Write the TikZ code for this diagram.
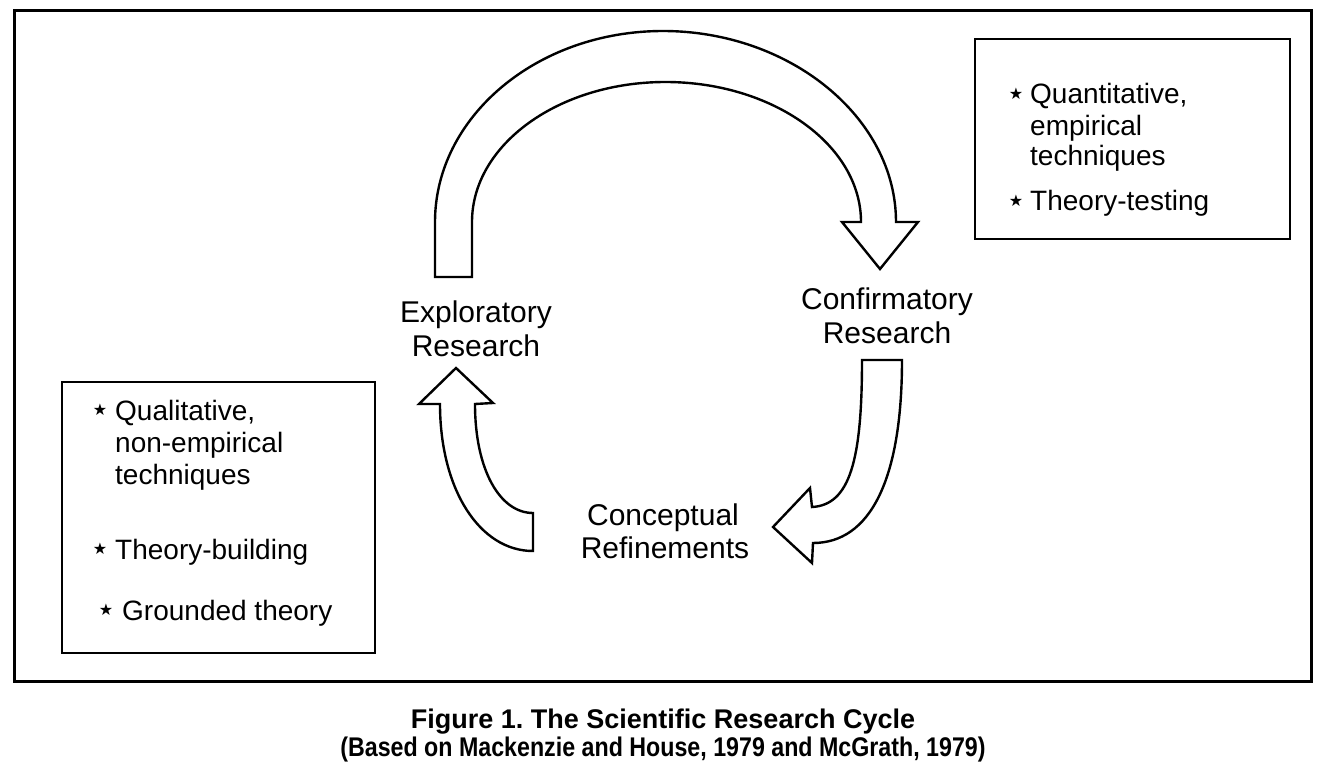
\documentclass[tikz,border=0pt]{standalone}
\usepackage{fontspec}
\setmainfont{Liberation Sans}
\newfontfamily\symfont{DejaVu Sans}
\begin{document}
\begin{tikzpicture}[x=1pt,y=-1pt,
  lbl/.style={font=\fontsize{30}{34}\selectfont, anchor=base, inner sep=0},
  bul/.style={font=\fontsize{28}{30}\selectfont, anchor=base west, inner sep=0},
  starmark/.style={font=\symfont\fontsize{16}{16}\selectfont, anchor=center, inner sep=0},
  captext/.style={font=\bfseries\fontsize{27}{29}\selectfont, anchor=base, inner sep=0},
  box/.style={draw, line width=2.2pt},
  blk/.style={draw, line width=2.4pt, line join=miter, fill=white}]
\useasboundingbox (0,0) rectangle (1326,778);
% frame
\draw[line width=3pt] (14,11) rectangle (1311,681);
% boxes
\draw[box] (975,39) rectangle (1290,239);
\draw[box] (62,382) rectangle (375,653);
% top right bullets
\node[starmark] (s1) at (1016,94) {★};
\node[bul] (q1) at (1030,104) {Quantitative,};
\node[bul] (q2) at (1030,136) {empirical};
\node[bul] (q3) at (1030,166) {techniques};
\node[starmark] (s2) at (1016,201) {★};
\node[bul] (q4) at (1030,211) {Theory-testing};
% bottom left bullets
\node[starmark] (s3) at (100,410) {★};
\node[bul] (l1) at (115,420) {Qualitative,};
\node[bul] (l2) at (115,452) {non-empirical};
\node[bul] (l3) at (115,484) {techniques};
\node[starmark] (s4) at (100,549) {★};
\node[bul] (l4) at (115,559) {Theory-building};
\node[starmark] (s5) at (106,610) {★};
\node[bul] (l5) at (122,620) {Grounded theory};
% labels
\node[lbl] (ex1) at (476,323) {Exploratory};
\node[lbl] (ex2) at (476,356) {Research};
\node[lbl] (cf1) at (887,309) {Confirmatory};
\node[lbl] (cf2) at (887,343) {Research};
\node[lbl] (cr1) at (663,525) {Conceptual};
\node[lbl] (cr2) at (665,558) {Refinements};
% top block arrow
\draw[blk] (435,277) -- (435,222)
  .. controls (435,117.6) and (536,31) .. (663,31)
  .. controls (790,31) and (896,117.6) .. (896,222)
  -- (918,222) -- (880,269) -- (842,222) -- (861,222)
  .. controls (861,144.7) and (772.4,82) .. (665.5,82)
  .. controls (558.6,82) and (472,144.7) .. (472,222)
  -- (472,277) -- cycle;
% right block arrow
\draw[blk] (862,360) -- (902,360)
  .. controls (902,480) and (870,543) .. (813,543)
  -- (812,563) -- (773,527) -- (810,488) -- (812,507)
  .. controls (850,505) and (862,460) .. (862,360) -- cycle;
% left block arrow
\draw[blk] (533,551) -- (533,513)
  .. controls (500,513) and (475,470) .. (475,404)
  -- (493,403) -- (456,368) -- (419,404) -- (440,404)
  .. controls (440,490) and (480,551) .. (533,551) -- cycle;
% caption
\node[captext] (c1) at (663,728) {Figure 1.\ The Scientific Research Cycle};
\node[captext] (c2) at (663,756) {\scalebox{0.86}[1]{(Based on Mackenzie and House, 1979 and McGrath, 1979)}};
\end{tikzpicture}
\end{document}
